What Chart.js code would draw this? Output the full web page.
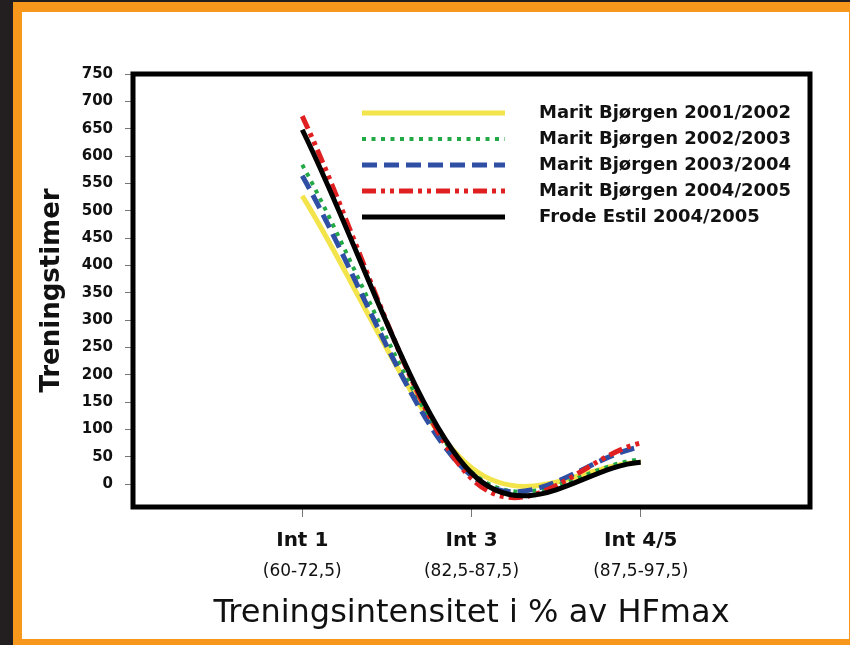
<!DOCTYPE html>
<html>
<head>
<meta charset="utf-8">
<script src="https://cdn.jsdelivr.net/npm/chart.js@4.4.1/dist/chart.umd.min.js"></script>
<style>
  html, body { margin: 0; padding: 0; }
  body { width: 850px; height: 645px; background: #231f20; position: relative; overflow: hidden; }
  #ramme { position: absolute; left: 13px; top: 2px; width: 837px; height: 643px; background: #f7981d; }
  #flate { position: absolute; left: 22px; top: 12px; width: 827px; height: 627px; background: #fff; }
  #boks { position: absolute; left: 22px; top: 12px; width: 827px; height: 627px; }
</style>
</head>
<body>
<div id="ramme"></div>
<div id="flate"></div>
<div id="boks"><canvas id="graf"></canvas></div>
<script>
// Intensitetssoner (tomme plasser i kantene gir luft mot rammen)
const soner = ['', 'Int 1', 'Int 3', 'Int 4/5', ''];
const pulsSoner = ['', '(60-72,5)', '(82,5-87,5)', '(87,5-97,5)', ''];
const yTicks = [0, 50, 100, 150, 200, 250, 300, 350, 400, 450, 500, 550, 600, 650, 700, 750];

// Treningstimer per sone
const marit0102 = [null, 527, 30, 40];
const marit0203 = [null, 584, 22, 45];
const marit0304 = [null, 564, 15, 68];
const marit0405 = [null, 673, 10, 75];
const frode0405 = [null, 648, 20, 40];

const FONT = '"DejaVu Sans", Arial, sans-serif';

function serie(navn, data, farge, strek, bredde, rekkef) {
    return {
        label: navn,
        data: data,
        borderColor: farge,
        backgroundColor: farge,
        borderDash: strek,
        borderWidth: bredde,
        pointRadius: 0,
        tension: 0.4,
        fill: false,
        order: rekkef
    };
}

// Glatt kurve i "regneark-stil": tangent = (neste - forrige) / 6
const glatting = {
    id: 'glatting',
    beforeDatasetsDraw(chart) {
        chart.getSortedVisibleDatasetMetas().forEach(meta => {
            const pts = meta.data.filter(p => !p.skip);
            const n = pts.length;
            pts.forEach((p, i) => {
                const forr = pts[i - 1], neste = pts[i + 1];
                let dx, dy;
                if (forr && neste) {
                    dx = (neste.x - forr.x) / 6; dy = (neste.y - forr.y) / 6;
                } else if (neste) {
                    dx = (neste.x - p.x) / 3; dy = (neste.y - p.y) / 3;
                } else if (forr) {
                    dx = (p.x - forr.x) / 3; dy = (p.y - forr.y) / 3;
                } else { dx = 0; dy = 0; }
                p.cp1x = p.x - dx; p.cp1y = p.y - dy;
                p.cp2x = p.x + dx; p.cp2y = p.y + dy;
            });
            if (n > 1) meta.dataset._pointsUpdated = true;
        });
    }
};

// Tegnforklaring inne i plottet + tykk ramme rundt plottet
const plotRamme = {
    id: 'plotRamme',
    afterDatasetsDraw(chart) {
        const { ctx, chartArea: a } = chart;
        ctx.save();
        ctx.strokeStyle = '#000';
        ctx.lineWidth = 5;
        ctx.strokeRect(a.left, a.top, a.right - a.left, a.bottom - a.top);

        ctx.font = 'bold 18px ' + FONT;
        ctx.textBaseline = 'middle';
        ctx.fillStyle = '#111';
        chart.data.datasets.forEach((ds, i) => {
            const y = a.top + 39 + i * 26;
            ctx.beginPath();
            ctx.setLineDash(ds.borderDash || []);
            ctx.strokeStyle = ds.borderColor;
            ctx.lineWidth = ds.borderWidth;
            ctx.moveTo(a.left + 229, y);
            ctx.lineTo(a.left + 372, y);
            ctx.stroke();
            ctx.setLineDash([]);
            ctx.fillText(ds.label, a.left + 406, y);
        });
        ctx.restore();
    }
};

new Chart(document.getElementById('graf'), {
    type: 'line',
    data: {
        labels: soner,
        datasets: [
            serie('Marit Bjørgen 2001/2002', marit0102, '#f2e44a', [], 5, 5),
            serie('Marit Bjørgen 2002/2003', marit0203, '#22a845', [4, 5.5], 4, 4),
            serie('Marit Bjørgen 2003/2004', marit0304, '#2e4fa3', [15, 7], 5, 3),
            serie('Marit Bjørgen 2004/2005', marit0405, '#e02020', [14, 5, 4, 5, 4, 5], 5, 2),
            serie('Frode Estil 2004/2005', frode0405, '#000000', [], 5, 1)
        ]
    },
    options: {
        responsive: true,
        maintainAspectRatio: false,
        animation: false,
        events: [],
        layout: { padding: { top: 62, right: 39, bottom: 0, left: 0 } },
        plugins: {
            legend: { display: false },
            tooltip: { enabled: false }
        },
        scales: {
            x: {
                type: 'category',
                offset: false,
                position: 'bottom',
                afterFit: s => { s.height = 50; },
                grid: {
                    drawOnChartArea: false, drawTicks: true, tickLength: 10, lineWidth: 1,
                    color: c => (c.index === 0 || c.index === soner.length - 1) ? 'rgba(0,0,0,0)' : '#777'
                },
                border: { display: false },
                ticks: {
                    autoSkip: false, maxRotation: 0, padding: 12,
                    color: '#111', font: { family: FONT, size: 20, weight: 'bold' }
                }
            },
            x2: {
                type: 'category',
                labels: pulsSoner,
                offset: false,
                position: 'bottom',
                afterFit: s => { s.height = 82; },
                grid: { display: false, drawTicks: false },
                border: { display: false },
                ticks: {
                    autoSkip: false, maxRotation: 0, padding: 4,
                    color: '#111', font: { family: FONT, size: 17 }
                },
                title: {
                    display: true,
                    text: 'Treningsintensitet i % av HFmax',
                    color: '#111',
                    font: { family: FONT, size: 32 },
                    padding: { top: 0, bottom: 6 }
                }
            },
            y: {
                min: -42,
                max: 750,
                afterFit: s => { s.width = 111; },
                afterBuildTicks: s => { s.ticks = yTicks.map(v => ({ value: v })); },
                grid: { drawOnChartArea: false, drawTicks: true, tickLength: 8, color: '#777', lineWidth: 1 },
                border: { display: false },
                ticks: {
                    padding: 12,
                    color: '#111',
                    font: { family: FONT, size: 15, weight: 'bold' }
                },
                title: {
                    display: true,
                    text: 'Treningstimer',
                    color: '#111',
                    font: { family: FONT, size: 26, weight: 'bold' },
                    padding: { top: 15, bottom: 0 }
                }
            }
        }
    },
    plugins: [glatting, plotRamme]
});
</script>
</body>
</html>
